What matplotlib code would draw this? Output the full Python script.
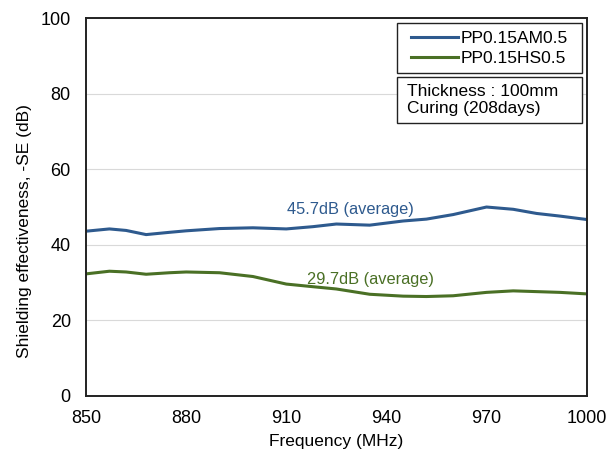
import matplotlib.pyplot as plt
from matplotlib.patches import Rectangle
import numpy as np

plt.rcParams['font.family'] = ['Liberation Sans', 'DejaVu Sans']

# measured shielding effectiveness
freq = [850, 857, 862, 868, 875, 880, 890, 900, 910, 918, 925, 935, 945, 952, 960, 970, 978, 985, 992, 1000]
se_am = [43.6, 44.2, 43.8, 42.7, 43.3, 43.7, 44.3, 44.5, 44.2, 44.8, 45.5, 45.2, 46.3, 46.8, 48.0, 50.0, 49.4, 48.3, 47.6, 46.7]
se_hs = [32.3, 33.0, 32.8, 32.2, 32.6, 32.8, 32.6, 31.6, 29.6, 28.9, 28.3, 26.9, 26.4, 26.3, 26.5, 27.4, 27.8, 27.6, 27.4, 27.0]

labels = ['PP0.15AM0.5', 'PP0.15HS0.5']
avg_text = ['45.7dB (average)', '29.7dB (average)']
colors = ['#2E5A8E', '#4A7025']

fig, ax = plt.subplots(figsize=(6.06, 4.55), dpi=100)
fig.subplots_adjust(left=0.142, right=0.968, bottom=0.13, top=0.96)

ax.plot(freq, se_am, color=colors[0], lw=2.2, label=labels[0])
ax.plot(freq, se_hs, color=colors[1], lw=2.2, label=labels[1])

ax.text(929.2, 47.4, avg_text[0], color=colors[0], fontsize=11.8, ha='center', va='bottom')
ax.text(935.2, 28.8, avg_text[1], color=colors[1], fontsize=11.8, ha='center', va='bottom')

ax.set_xlim(850, 1000)
ax.set_ylim(0, 100)
ax.set_xticks(np.arange(850, 1001, 30))
ax.set_yticks(np.arange(0, 101, 20))
ax.tick_params(length=0, labelsize=13)
ax.tick_params(axis='x', pad=10)
ax.tick_params(axis='y', pad=11)
ax.yaxis.grid(True, color='#D9D9D9', lw=0.8)
ax.set_axisbelow(True)
for s in ax.spines.values():
    s.set_color('#222222')
    s.set_linewidth(1.4)

ax.set_xlabel('Frequency (MHz)', fontsize=12.5, labelpad=5)
ax.set_ylabel('Shielding effectiveness, -SE (dB)', fontsize=12.5)
ax.yaxis.set_label_coords(-0.108, 0.437)

# legend and note boxes, same width, stacked in the upper right
box_x, box_w = 0.621, 0.37
ax.add_patch(Rectangle((box_x, 0.8545), box_w, 0.132, transform=ax.transAxes,
                       fc='white', ec='#222222', lw=1.0, zorder=5, clip_on=False))
ax.add_patch(Rectangle((box_x, 0.722), box_w, 0.1217, transform=ax.transAxes,
                       fc='white', ec='#222222', lw=1.0, zorder=5, clip_on=False))

leg = ax.legend(loc='center', bbox_to_anchor=(box_x + box_w / 2, 0.9206), fontsize=12.5,
                frameon=False, handlelength=2.7, handletextpad=0.2, borderpad=0.0,
                labelspacing=0.3)
leg.set_zorder(6)

ax.text(0.641, 0.783, 'Thickness : 100mm\nCuring (208days)', transform=ax.transAxes,
        fontsize=12.5, ha='left', va='center', linespacing=1.2, zorder=6)

fig.savefig('out.png')
